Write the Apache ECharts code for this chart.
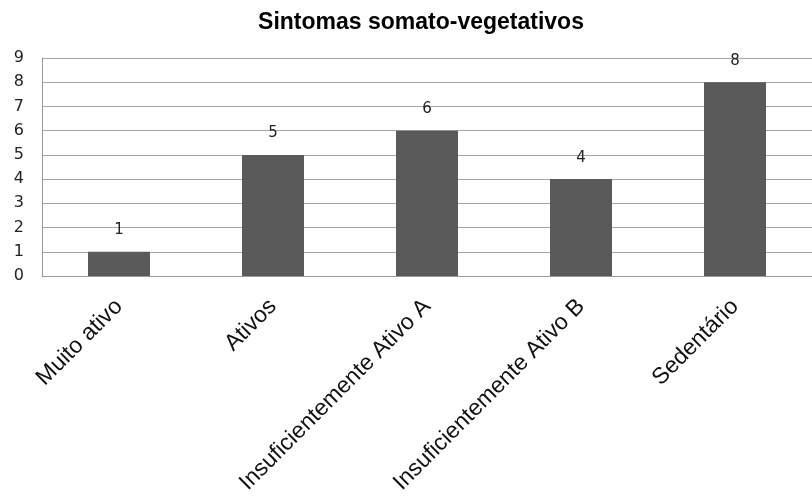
<!DOCTYPE html>
<html>
<head>
<meta charset="utf-8">
<script src="https://cdn.jsdelivr.net/npm/echarts@6/dist/echarts.min.js"></script>
<style>
  html, body { margin: 0; padding: 0; background: #fff; }
  #chart { width: 812px; height: 497px; }
</style>
</head>
<body>
<div id="chart"></div>
<script>
const titleText = 'Sintomas somato-vegetativos';
const categories = ['Muito ativo', 'Ativos', 'Insuficientemente Ativo A', 'Insuficientemente Ativo B', 'Sedentário'];
const values = [1, 5, 6, 4, 8];
const yTicks = [0, 1, 2, 3, 4, 5, 6, 7, 8, 9];

const chart = echarts.init(document.getElementById('chart'));
chart.setOption({
  animation: false,
  backgroundColor: '#ffffff',
  title: {
    text: titleText,
    left: 416,
    textAlign: 'center',
    top: 6,
    textStyle: { fontFamily: 'Liberation Sans, Arial, sans-serif', fontWeight: 'bold', fontSize: 23, color: '#000' }
  },
  grid: { left: 42, right: -8, top: 58, bottom: 221, containLabel: false },
  xAxis: {
    type: 'category',
    data: categories,
    axisLine: { lineStyle: { color: '#9a9a9a', width: 1 } },
    axisTick: { show: false },
    axisLabel: {
      rotate: 45,
      margin: 27,
      interval: 0,
      fontFamily: 'Liberation Sans, Arial, sans-serif',
      fontSize: 23,
      color: '#111'
    }
  },
  yAxis: {
    type: 'value',
    min: yTicks[0],
    max: yTicks[yTicks.length - 1],
    interval: 1,
    axisLine: { show: true, lineStyle: { color: '#9a9a9a', width: 1 } },
    axisTick: { show: false },
    splitLine: { lineStyle: { color: '#a6a6a6', width: 1 } },
    axisLabel: {
      margin: 18,
      fontFamily: 'DejaVu Sans, Verdana, sans-serif',
      fontSize: 16,
      color: '#222'
    }
  },
  series: [{
    type: 'bar',
    data: values,
    barWidth: 62,
    itemStyle: { color: '#5a5a5a' },
    label: {
      show: true,
      position: 'top',
      distance: 14,
      fontFamily: 'DejaVu Sans, sans-serif',
      fontSize: 15,
      color: '#222'
    }
  }]
});
</script>
</body>
</html>
